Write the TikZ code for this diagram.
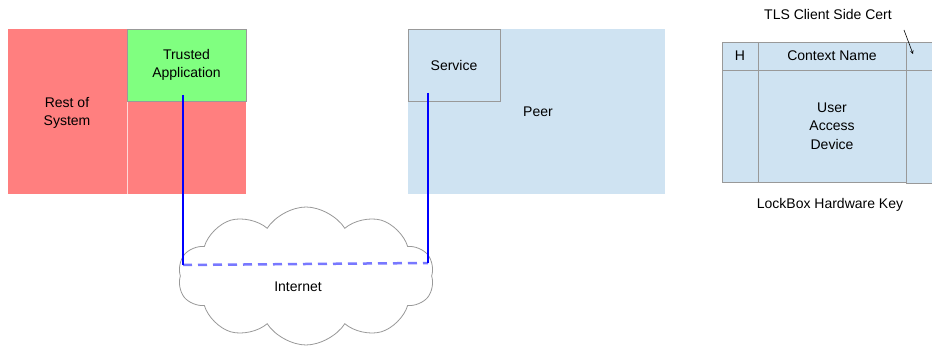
\documentclass[tikz,border=0pt]{standalone}
\usepackage{fontspec}
\setmainfont{Liberation Sans}
\usetikzlibrary{shapes.symbols}
\definecolor{sysred}{HTML}{FF7F7F}
\definecolor{tagreen}{HTML}{80FF80}
\definecolor{peerblue}{HTML}{CFE3F2}
\definecolor{edgegray}{HTML}{999999}
\definecolor{linkblue}{HTML}{0000FF}
\definecolor{dashblue}{HTML}{7878FF}
\begin{document}
\begin{tikzpicture}[x=1pt,y=-1pt,
  box/.style={draw=edgegray,line width=0.8pt,inner sep=0,outer sep=0},
  lbl/.style={font=\fontsize{14}{18.5}\selectfont,align=center,text=black},
  link/.style={linkblue,line width=2.5pt},
  tunnel/.style={dashblue,line width=2.5pt,dash pattern=on 9pt off 6pt}]
\useasboundingbox (0,0) rectangle (932,347);
% cloud
\node[cloud,cloud puffs=10,cloud puff arc=115,aspect=1.85,draw=edgegray,fill=white,line width=0.8pt,
  minimum width=256pt,minimum height=138pt,inner sep=0] (net) at (306,276) {};
\node[lbl] (netl) at (298,287) {Internet};
% system
\fill[sysred] (8,29) rectangle (246,194);
\node[inner sep=0,minimum width=119pt,minimum height=165pt,fill=sysred] (rest) at (67.5,111.5) {};
\node[lbl] at (67,113) {Rest of\\System};
\draw[white!70!sysred,line width=0.6pt] (127,101) -- (127,194);
\node[box,fill=tagreen,minimum width=119pt,minimum height=72pt,lbl] (ta) at (186.5,65) {Trusted\\Application};
% peer
\node[inner sep=0,fill=peerblue,minimum width=257pt,minimum height=165pt] (peer) at (536.5,111.5) {};
\node[lbl] at (538,112) {Peer};
\node[box,fill=peerblue,minimum width=92pt,minimum height=72pt,lbl] (svc) at (454,65) {Service};
% links
\coordinate (a1) at (183,95);
\coordinate (a2) at (183,265);
\coordinate (b1) at (428,93);
\coordinate (b2) at (428,263);
\draw[tunnel] (a2) -- (b2);
\draw[link] (a1) -- (a2);
\draw[link] (b1) -- (b2);
% lockbox
\node[box,fill=peerblue,minimum width=30pt,minimum height=141pt] (cert) at (921,112.5) {};
\node[box,fill=peerblue,minimum width=36pt,minimum height=28pt,lbl] (h) at (740,56) {H};
\node[box,fill=peerblue,minimum width=148pt,minimum height=28pt,lbl] (ctx) at (832,56) {Context Name};
\node[box,fill=peerblue,minimum width=36pt,minimum height=112pt] (hb) at (740,126) {};
\node[box,fill=peerblue,minimum width=148pt,minimum height=112pt,lbl] (uad) at (832,126) {User\\Access\\Device};
\draw[edgegray,line width=0.8pt] (906,70) -- (932,70);
\node[lbl] (lbk) at (830,205) {LockBox Hardware Key};
\node[lbl] (tls) at (828,15) {TLS Client Side Cert};
\coordinate (tip) at (913,54);
\draw[-stealth,line width=0.6pt] (904,30) -- (tip);
\end{tikzpicture}
\end{document}
